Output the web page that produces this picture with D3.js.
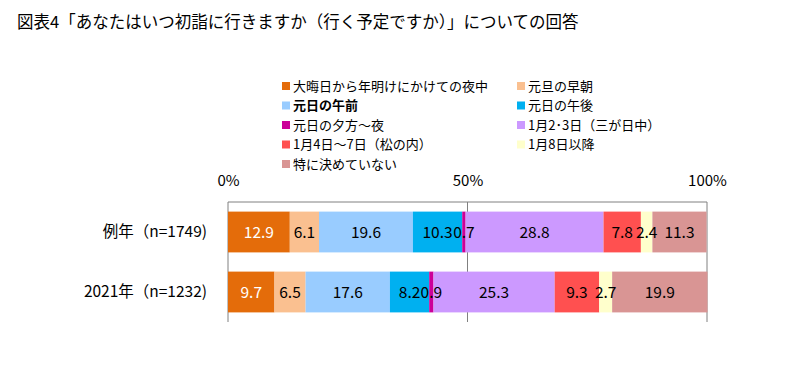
<!DOCTYPE html>
<html>
<head>
<meta charset="utf-8">
<script src="https://cdn.jsdelivr.net/npm/d3@7"></script>
<style>
  body { margin: 0; background: #fff; }
  text { font-family: "Noto Sans CJK JP", "Noto Sans", sans-serif; fill: #000; }
</style>
</head>
<body>
<script>
// data
var categories = ["例年（n=1749)", "2021年（n=1232)"];
var seriesNames = ["大晦日から年明けにかけての夜中", "元旦の早朝", "元日の午前", "元日の午後",
    "元日の夕方～夜", "1月2･3日（三が日中）", "1月4日～7日（松の内）", "1月8日以降", "特に決めていない"];
var colors = ["#E46C0A", "#FAC090", "#99CCFF", "#00B0F0", "#CC0099", "#CC99FF", "#FF5050", "#FFFFCC", "#D99594"];
var values = [
    [12.9, 6.1, 19.6, 10.3, 0.7, 28.8, 7.8, 2.4, 11.3],
    [9.7, 6.5, 17.6, 8.2, 0.9, 25.3, 9.3, 2.7, 19.9]
];
var ticks = [0, 50, 100];

var width = 810, height = 376;
var svg = d3.select("body").append("svg")
    .attr("width", width)
    .attr("height", height);

svg.append("text")
    .attr("x", 17)
    .attr("y", 28)
    .style("font-size", "16.5px")
    .text("図表4「あなたはいつ初詣に行きますか（行く予定ですか）」についての回答");

// legend
var legend = svg.append("g");
seriesNames.forEach(function(name, i){
    var col = i % 2, row = Math.floor(i / 2);
    var lx = col == 0 ? 282 : 517, ly = 86 + row * 19.5;
    legend.append("rect")
        .attr("x", lx).attr("y", ly - 4)
        .attr("width", 8).attr("height", 8)
        .attr("fill", colors[i]);
    legend.append("text")
        .attr("x", lx + 11).attr("y", ly)
        .attr("dy", "0.35em")
        .style("font-size", "13px")
        .style("font-weight", i == 2 ? "bold" : "normal")
        .text(name);
});

var x = d3.scaleLinear().domain([0, 100]).range([228, 707]);
var y = d3.scaleBand().domain(categories).range([202, 322]).paddingInner(0.32).paddingOuter(0.16);

var g = svg.append("g");

// gridlines behind bars
g.selectAll(".grid")
    .data(ticks)
    .enter().append("line")
    .attr("x1", function(d){ return x(d); })
    .attr("x2", function(d){ return x(d); })
    .attr("y1", 202).attr("y2", 322)
    .attr("stroke", "#808080").attr("stroke-width", 1);

g.append("line")
    .attr("x1", x(0)).attr("x2", x(100))
    .attr("y1", 202).attr("y2", 202)
    .attr("stroke", "#808080");

var xAxis = d3.axisTop(x).tickValues(ticks).tickSize(0).tickFormat(function(d){ return d + "%"; });
var ax = g.append("g").attr("transform", "translate(0,189)").call(xAxis);
ax.select(".domain").remove();
ax.selectAll("text").style("font-size", "15px").attr("fill", "#000");

// stacked segments
var segs = [];
values.forEach(function(vals, r){
    var acc = 0;
    vals.forEach(function(v, i){
        segs.push({cat: categories[r], i: i, v: v, x0: acc, x1: acc + v});
        acc += v;
    });
});

g.selectAll(".seg")
    .data(segs)
    .enter().append("rect")
    .attr("class", "seg")
    .attr("x", function(d){ return x(d.x0); })
    .attr("y", function(d){ return y(d.cat); })
    .attr("width", function(d){ return x(d.x1) - x(d.x0); })
    .attr("height", y.bandwidth())
    .attr("fill", function(d){ return colors[d.i]; });

// labels drawn after all bars so neighbours don't cover them
g.selectAll(".lbl")
    .data(segs)
    .enter().append("text")
    .attr("class", "lbl")
    .attr("x", function(d){ return (x(d.x0) + x(d.x1)) / 2; })
    .attr("y", function(d){ return y(d.cat) + y.bandwidth() / 2; })
    .attr("dy", "0.36em")
    .attr("text-anchor", "middle")
    .style("font-size", "15.5px")
    .style("fill", function(d){ return d.i == 0 ? "#fff" : "#000"; })
    .text(function(d){ return d.v.toFixed(1); });

var yAxis = d3.axisLeft(y).tickSize(0).tickPadding(21);
var ay = g.append("g").attr("transform", "translate(" + x(0) + ",0)").call(yAxis);
ay.select(".domain").remove();
ay.selectAll("text").style("font-size", "15.5px").attr("fill", "#000");
</script>
</body>
</html>
